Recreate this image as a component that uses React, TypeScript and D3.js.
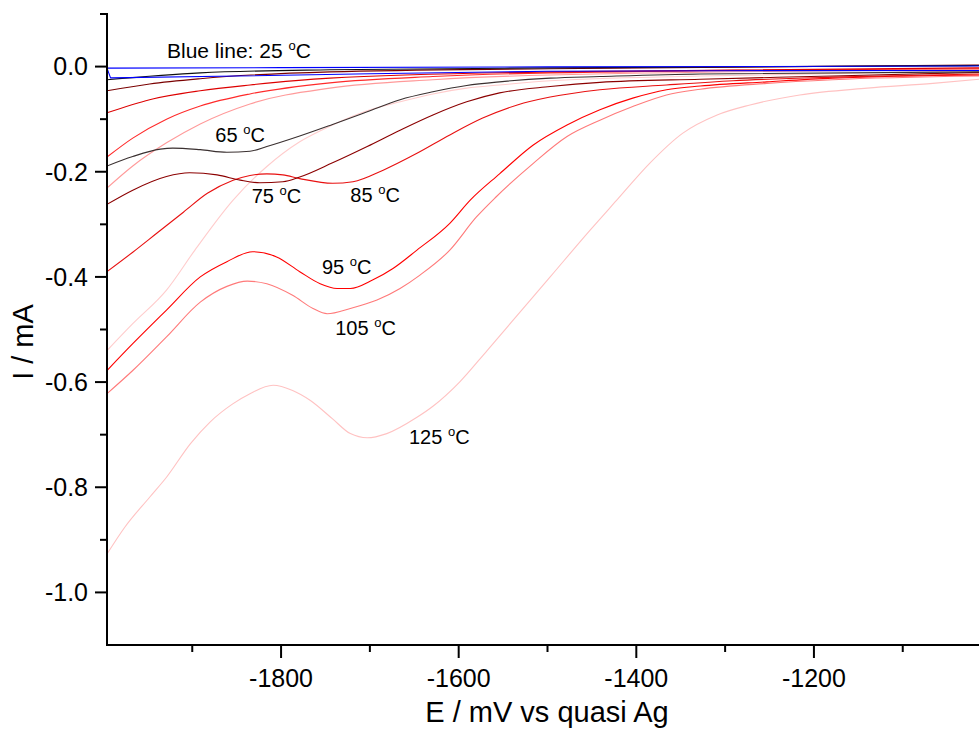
import React from 'react';
import * as d3 from 'd3';

const W = 979;
const H = 731;

const xDomain: [number, number] = [-1996, -1004];
const yDomain: [number, number] = [-1.1, 0.1];
const xMajorTicks = [-1800, -1600, -1400, -1200];
const xMinorTicks = [-1900, -1700, -1500, -1300, -1100];
const yMajorTicks = [0, -0.2, -0.4, -0.6, -0.8, -1.0];
const yMinorTicks = [0.1, -0.1, -0.3, -0.5, -0.7, -0.9];

// [E (mV), I (mA)]
const curve125: [number, number][] = [
  [-1996, -0.927], [-1976, -0.876], [-1948, -0.819], [-1929, -0.781], [-1902, -0.717],
  [-1880, -0.676], [-1854, -0.641], [-1835, -0.622], [-1809, -0.606], [-1787, -0.616],
  [-1767, -0.635], [-1742, -0.670], [-1722, -0.698], [-1703, -0.706], [-1681, -0.698],
  [-1647, -0.667], [-1629, -0.646], [-1599, -0.600], [-1568, -0.540], [-1497, -0.400],
  [-1452, -0.311], [-1422, -0.254], [-1385, -0.184], [-1348, -0.127], [-1309, -0.092],
  [-1272, -0.073], [-1216, -0.054], [-1140, -0.041], [-1066, -0.032], [-1014, -0.024],
];
const curveL8: [number, number][] = [
  [-1996, -0.540], [-1967, -0.489], [-1929, -0.425], [-1897, -0.349], [-1854, -0.254],
  [-1816, -0.190], [-1779, -0.143], [-1742, -0.111], [-1703, -0.084], [-1666, -0.067],
  [-1629, -0.052], [-1591, -0.041], [-1554, -0.035], [-1497, -0.027], [-1328, -0.018],
  [-1014, -0.008],
];
const curve105: [number, number][] = [
  [-1996, -0.622], [-1967, -0.578], [-1929, -0.514], [-1891, -0.448], [-1861, -0.418],
  [-1838, -0.408], [-1816, -0.413], [-1787, -0.435], [-1764, -0.460], [-1748, -0.470],
  [-1722, -0.460], [-1692, -0.444], [-1666, -0.422], [-1644, -0.397], [-1610, -0.349],
  [-1580, -0.286], [-1558, -0.248], [-1516, -0.184], [-1478, -0.133], [-1441, -0.102],
  [-1404, -0.076], [-1366, -0.054], [-1328, -0.043], [-1253, -0.032], [-1179, -0.025],
  [-1014, -0.018],
];
const curveL7: [number, number][] = [
  [-1996, -0.231], [-1967, -0.189], [-1929, -0.145], [-1891, -0.109], [-1835, -0.071],
  [-1745, -0.041], [-1629, -0.025], [-1497, -0.016], [-1014, -0.006],
];
const curve95: [number, number][] = [
  [-1996, -0.578], [-1967, -0.527], [-1929, -0.463], [-1891, -0.400], [-1861, -0.371],
  [-1832, -0.352], [-1805, -0.362], [-1779, -0.390], [-1756, -0.413], [-1737, -0.422],
  [-1722, -0.422], [-1697, -0.406], [-1674, -0.384], [-1647, -0.349], [-1610, -0.298],
  [-1587, -0.254], [-1554, -0.204], [-1516, -0.149], [-1478, -0.111], [-1441, -0.082],
  [-1404, -0.060], [-1366, -0.044], [-1328, -0.037], [-1253, -0.029], [-1179, -0.022],
  [-1014, -0.016],
];
const curve85: [number, number][] = [
  [-1996, -0.390], [-1967, -0.353], [-1940, -0.317], [-1910, -0.277], [-1883, -0.241],
  [-1854, -0.216], [-1835, -0.207], [-1816, -0.204], [-1798, -0.206], [-1779, -0.213],
  [-1742, -0.222], [-1719, -0.219], [-1685, -0.197], [-1647, -0.165], [-1610, -0.130],
  [-1573, -0.098], [-1534, -0.073], [-1497, -0.058], [-1441, -0.044], [-1366, -0.035],
  [-1291, -0.027], [-1179, -0.020], [-1014, -0.014],
];
const curveL6: [number, number][] = [
  [-1996, -0.172], [-1967, -0.136], [-1929, -0.100], [-1891, -0.075], [-1835, -0.052],
  [-1745, -0.031], [-1629, -0.019], [-1497, -0.012], [-1014, -0.004],
];
const curveL5: [number, number][] = [
  [-1996, -0.088], [-1948, -0.063], [-1891, -0.046], [-1835, -0.035], [-1745, -0.022],
  [-1497, -0.010], [-1014, -0.0025],
];
const curve75: [number, number][] = [
  [-1996, -0.262], [-1967, -0.235], [-1929, -0.209], [-1903, -0.202], [-1872, -0.206],
  [-1846, -0.216], [-1824, -0.221], [-1798, -0.219], [-1779, -0.210], [-1742, -0.183],
  [-1703, -0.152], [-1666, -0.121], [-1629, -0.092], [-1591, -0.067], [-1554, -0.050],
  [-1497, -0.038], [-1441, -0.030], [-1328, -0.024], [-1179, -0.018], [-1014, -0.011],
];
const curveL4: [number, number][] = [
  [-1996, -0.046], [-1948, -0.033], [-1891, -0.023], [-1745, -0.010], [-1497, -0.004],
  [-1014, 0.003],
];
const curve65: [number, number][] = [
  [-1996, -0.189], [-1967, -0.171], [-1936, -0.157], [-1922, -0.155], [-1891, -0.158],
  [-1861, -0.163], [-1835, -0.161], [-1816, -0.152], [-1779, -0.132], [-1742, -0.110],
  [-1703, -0.086], [-1666, -0.063], [-1629, -0.048], [-1591, -0.036], [-1554, -0.029],
  [-1497, -0.022], [-1441, -0.019], [-1328, -0.014], [-1014, -0.010],
];
const curveL3: [number, number][] = [
  [-1996, -0.025], [-1891, -0.012], [-1745, -0.006], [-1497, -0.0025], [-1014, 0.002],
];
// 25 °C: forward scan (upper) then return scan (lower)
const curve25: [number, number][] = [
  [-1014, 0.001], [-1500, -0.0005], [-1800, -0.002], [-1996, -0.003],
  [-1992, -0.0215], [-1850, -0.018], [-1700, -0.0135], [-1500, -0.009],
  [-1300, -0.0078], [-1014, -0.0075],
];

const seriesData = [curve125, curveL8, curve105, curveL7, curve95, curve85, curveL6, curveL5, curve75, curveL4, curve65, curveL3, curve25];
const seriesColors = ['#ffc2c2', '#ffcccc', '#ff7a7a', '#ff9a9a', '#ff0000', '#e81010', '#ff2a2a', '#dd0000', '#8b0000', '#7a0000', '#3a3030', '#111111', '#0000ff'];
const seriesMonotone = [true, true, true, true, true, true, true, true, true, true, true, true, false];

const labelTexts = ['65', '75', '85', '95', '105', '125'];
const labelE = [-1874, -1833, -1722, -1754, -1739, -1656];
const labelI = [-0.143, -0.260, -0.257, -0.395, -0.511, -0.717];

const FONT = '"Liberation Sans", Arial, Helvetica, sans-serif';

export default function App() {
  const x = d3.scaleLinear().domain(xDomain).range([107, 988]);
  const y = d3.scaleLinear().domain(yDomain).range([645, 14]);

  const lineMono = d3.line<[number, number]>().x(d => x(d[0])).y(d => y(d[1])).curve(d3.curveMonotoneX);
  const lineLin = d3.line<[number, number]>().x(d => x(d[0])).y(d => y(d[1])).curve(d3.curveLinear);

  const axisColor = '#000';
  return (
    <svg width={W} height={H} style={{ position: 'absolute', left: 0, top: 0, background: '#fff' }} fontFamily={FONT}>
      <rect x={0} y={0} width={W} height={H} fill="#fff" />
      <defs>
        <clipPath id="plot">
          <rect x={107} y={14} width={881} height={631} />
        </clipPath>
      </defs>
      <g clipPath="url(#plot)" fill="none">
        {seriesData.map((s, i) => (
          <path key={i} d={(seriesMonotone[i] ? lineMono : lineLin)(s) || ''} stroke={seriesColors[i]} strokeWidth={1.1} strokeLinejoin="round" />
        ))}
      </g>
      {/* axes */}
      <line x1={107} y1={13} x2={107} y2={646} stroke={axisColor} strokeWidth={2} />
      <line x1={106} y1={645} x2={990} y2={645} stroke={axisColor} strokeWidth={2} />
      {yMajorTicks.map(t => (
        <g key={'ym' + t}>
          <line x1={95} x2={107} y1={y(t)} y2={y(t)} stroke={axisColor} strokeWidth={2} />
          <text x={88} y={y(t)} dy="0.35em" textAnchor="end" fontSize={25}>{d3.format('.1f')(t).replace('−', '-')}</text>
        </g>
      ))}
      {yMinorTicks.map(t => (
        <line key={'yn' + t} x1={100} x2={107} y1={y(t)} y2={y(t)} stroke={axisColor} strokeWidth={2} />
      ))}
      {xMajorTicks.map(t => (
        <g key={'xm' + t}>
          <line x1={x(t)} x2={x(t)} y1={645} y2={658} stroke={axisColor} strokeWidth={2} />
          <text x={x(t)} y={687} textAnchor="middle" fontSize={25}>{String(t)}</text>
        </g>
      ))}
      {xMinorTicks.map(t => (
        <line key={'xn' + t} x1={x(t)} x2={x(t)} y1={645} y2={652} stroke={axisColor} strokeWidth={2} />
      ))}
      <text x={547} y={722} textAnchor="middle" fontSize={29}>E / mV vs quasi Ag</text>
      <text transform="translate(33,342) rotate(-90)" textAnchor="middle" fontSize={29}>I / mA</text>
      {/* annotations */}
      <text x={167} y={58} fontSize={21}>
        Blue line: 25 <tspan fontSize={13} dy={-8}>o</tspan><tspan fontSize={21} dy={8}>C</tspan>
      </text>
      {labelTexts.map((t, i) => (
        <text key={t} x={x(labelE[i])} y={y(labelI[i])} fontSize={20}>
          {t + ' '}<tspan fontSize={13} dy={-8}>o</tspan><tspan fontSize={20} dy={8}>C</tspan>
        </text>
      ))}
    </svg>
  );
}
